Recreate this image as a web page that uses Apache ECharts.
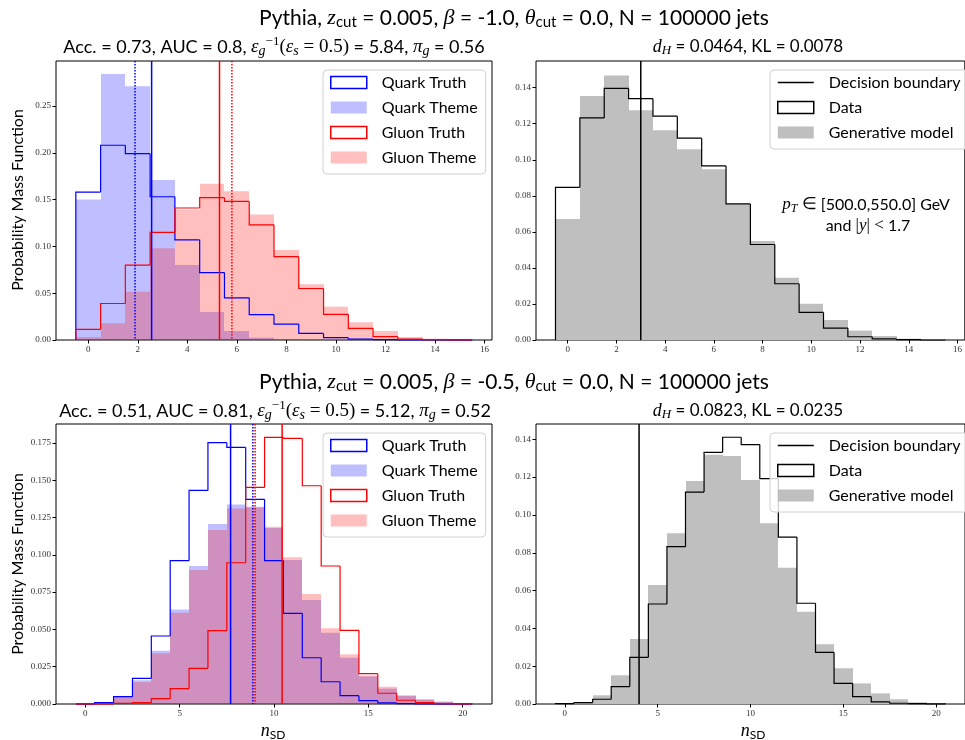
<!DOCTYPE html>
<html>
<head>
<meta charset="utf-8">
<script src="https://cdn.jsdelivr.net/npm/echarts@6/dist/echarts.min.js"></script>
<style>
html, body { margin: 0; padding: 0; background: #fff; }
#chart { width: 965px; height: 740px; }
</style>
</head>
<body>
<div id="chart"></div>
<script>
// bin centres and tick labels
const binsTop = [0, 1, 2, 3, 4, 5, 6, 7, 8, 9, 10, 11, 12, 13, 14, 15];
const binsBottom = [0, 1, 2, 3, 4, 5, 6, 7, 8, 9, 10, 11, 12, 13, 14, 15, 16, 17, 18, 19, 20];
const xTicksTop = [0, 2, 4, 6, 8, 10, 12, 14, 16];
const xTicksBottom = [0, 5, 10, 15, 20];
const yTicksTopLeft = [0, 0.05, 0.10, 0.15, 0.20, 0.25];
const yTicksTopRight = [0, 0.02, 0.04, 0.06, 0.08, 0.10, 0.12, 0.14];
const yTicksBottomLeft = [0, 0.025, 0.05, 0.075, 0.1, 0.125, 0.15, 0.175];
const yTicksBottomRight = [0, 0.02, 0.04, 0.06, 0.08, 0.10, 0.12, 0.14];

// top row, beta = -1.0
const quarkTruthTop = [0.158, 0.208, 0.199, 0.153, 0.107, 0.072, 0.045, 0.027, 0.017, 0.007, 0.0025, 0.001, 0.0005, 0.0002, 0, 0];
const quarkThemeTop = [0.150, 0.284, 0.271, 0.171, 0.080, 0.030, 0.0096, 0.0025, 0.0007, 0.0002, 0, 0, 0, 0, 0, 0];
const gluonTruthTop = [0.0114, 0.039, 0.080, 0.115, 0.141, 0.152, 0.148, 0.123, 0.089, 0.055, 0.0274, 0.0125, 0.0036, 0.001, 0.0004, 0];
const gluonThemeTop = [0.003, 0.0178, 0.0516, 0.098, 0.139, 0.167, 0.159, 0.134, 0.096, 0.0595, 0.0356, 0.0189, 0.0096, 0.0032, 0.0014, 0.0007];
const dataTop = [0.0847, 0.1232, 0.1396, 0.1339, 0.1242, 0.112, 0.0966, 0.0755, 0.053, 0.0312, 0.0153, 0.0066, 0.0018, 0.0006, 0.0002, 0];
const modelTop = [0.0672, 0.1354, 0.1468, 0.1275, 0.1164, 0.1059, 0.0948, 0.0755, 0.0549, 0.0345, 0.0201, 0.0111, 0.0052, 0.0022, 0.0007, 0.0004];
const quarkLineTop = 2.56, quarkDotTop = 1.89, gluonLineTop = 5.30, gluonDotTop = 5.80;
const boundaryTop = 3.0;

// bottom row, beta = -0.5
const quarkTruthBottom = [0, 0.0009, 0.0049, 0.0172, 0.0456, 0.0961, 0.1432, 0.1752, 0.172, 0.1372, 0.0961, 0.0608, 0.031, 0.0149, 0.0056, 0.0022, 0.0007, 0.0002, 0, 0, 0];
const quarkThemeBottom = [0, 0.0005, 0.0054, 0.0159, 0.0357, 0.0634, 0.0925, 0.1206, 0.1338, 0.1323, 0.118, 0.0965, 0.0697, 0.0478, 0.031, 0.0185, 0.0103, 0.0055, 0.003, 0.0015, 0.0006];
const gluonTruthBottom = [0, 0, 0.0004, 0.0009, 0.0036, 0.0103, 0.0239, 0.0492, 0.0947, 0.1452, 0.1787, 0.178, 0.1463, 0.0925, 0.0494, 0.0203, 0.0072, 0.0025, 0.0009, 0.0003, 0.0001];
const gluonThemeBottom = [0, 0.0004, 0.005, 0.0147, 0.034, 0.0612, 0.0898, 0.1166, 0.1311, 0.1318, 0.1189, 0.0983, 0.0737, 0.0507, 0.0333, 0.019, 0.0116, 0.0058, 0.0031, 0.0016, 0.0007];
const dataBottom = [0.0002, 0.0007, 0.0025, 0.0092, 0.0247, 0.0529, 0.0832, 0.1121, 0.1331, 0.1411, 0.1372, 0.1192, 0.0883, 0.0533, 0.0273, 0.0109, 0.0039, 0.0011, 0.0004, 0.0002, 0.0001];
const modelBottom = [0.0001, 0.0004, 0.0046, 0.0152, 0.0344, 0.063, 0.0903, 0.118, 0.1318, 0.1312, 0.1185, 0.0956, 0.0721, 0.0488, 0.0316, 0.0189, 0.0109, 0.0056, 0.0025, 0.0009, 0.0004];
const quarkLineBottom = 7.70, quarkDotBottom = 8.88, gluonLineBottom = 10.43, gluonDotBottom = 9.00;
const boundaryBottom = 4.0;

const SANS = "Lato";
const SERIF = "Liberation Serif";
const BLUE = "#0000ff", RED = "#ff0000";
const BLUE_FILL = "rgba(0,0,255,0.25)", RED_FILL = "rgba(255,0,0,0.25)", GREY_FILL = "#bfbfbf";

const chart = echarts.init(document.getElementById("chart"));

// filled histogram (bars); edges rounded so neighbouring bars don't leave seams
function fillSeries(name, gi, bins, vals, color) {
  return {
    type: "custom", name: name, xAxisIndex: gi, yAxisIndex: gi, z: 1,
    itemStyle: { color: color },
    data: bins.map((b, i) => [b, vals[i]]),
    renderItem: (params, api) => {
      const b = api.value(0), v = api.value(1);
      const p0 = api.coord([b - 0.5, v]);
      const p1 = api.coord([b + 0.5, 0]);
      const x0 = Math.round(p0[0]), x1 = Math.round(p1[0]);
      return {
        type: "rect",
        shape: { x: x0, y: p0[1], width: x1 - x0, height: p1[1] - p0[1] },
        style: { fill: color }
      };
    }
  };
}

// step histogram (outline)
function stepSeries(name, gi, bins, vals, color) {
  return {
    type: "custom", name: name, xAxisIndex: gi, yAxisIndex: gi, z: 3,
    itemStyle: { color: color },
    data: bins.map((b, i) => [b, vals[i], i > 0 ? vals[i - 1] : 0, i === bins.length - 1 ? 1 : 0]),
    renderItem: (params, api) => {
      const b = api.value(0), v = api.value(1), prev = api.value(2), last = api.value(3);
      const pts = [api.coord([b - 0.5, prev]), api.coord([b - 0.5, v]), api.coord([b + 0.5, v])];
      if (last) pts.push(api.coord([b + 0.5, 0]));
      return {
        type: "polyline",
        shape: { points: pts },
        style: { stroke: color, lineWidth: 1.2, fill: null }
      };
    }
  };
}

// vertical line over full plot height
function vlineSeries(name, gi, x, color, dotted) {
  return {
    type: "custom", name: name, xAxisIndex: gi, yAxisIndex: gi, z: 4,
    itemStyle: { color: color },
    data: [[x, 0]],
    renderItem: (params, api) => {
      const cs = params.coordSys;
      const px = api.coord([api.value(0), 0])[0];
      return {
        type: "line",
        shape: { x1: px, y1: cs.y, x2: px, y2: cs.y + cs.height },
        style: { stroke: color, lineWidth: 1.5, lineDash: dotted ? [1.5, 1.5] : null }
      };
    }
  };
}

function xAxis(gi, min, max, ticks) {
  return {
    type: "value", gridIndex: gi, min: min, max: max,
    axisLine: { show: false, onZero: false },
    splitLine: { show: false },
    axisTick: { show: true, customValues: ticks, length: 3.5, lineStyle: { color: "#000" } },
    axisLabel: { customValues: ticks, fontFamily: SERIF, fontSize: 9, color: "#333", margin: 5 }
  };
}

function yAxis(gi, max, ticks, digits) {
  return {
    type: "value", gridIndex: gi, min: 0, max: max,
    axisLine: { show: false, onZero: false },
    splitLine: { show: false },
    axisTick: { show: true, customValues: ticks, length: 3.5, lineStyle: { color: "#000" } },
    axisLabel: {
      customValues: ticks, fontFamily: SERIF, fontSize: 9, color: "#333", margin: 5,
      formatter: v => v.toFixed(digits)
    }
  };
}

function grid(left, top, width, height) {
  return { left: left, top: top, width: width, height: height, show: true, borderColor: "#000", borderWidth: 1, containLabel: false };
}

const boxLegend = (fill, border) => ({ icon: "rect", itemStyle: { color: fill, borderColor: border, borderWidth: border ? 1.5 : 0 } });

function legendBase(left, top) {
  return {
    orient: "vertical", left: left, top: top,
    itemWidth: 36, itemHeight: 12, itemGap: 8,
    padding: [4, 8, 8, 7],
    borderColor: "#d0d0d0", borderWidth: 1, borderRadius: 4,
    backgroundColor: "rgba(255,255,255,0.8)",
    selectedMode: false,
    textStyle: { fontFamily: SANS, fontSize: 16, color: "#000", padding: [0, 0, 0, 10], lineHeight: 17 }
  };
}

function qgLegend(left, top) {
  return Object.assign(legendBase(left, top), {
    data: [
      Object.assign({ name: "Quark Truth" }, boxLegend("#fff", BLUE)),
      Object.assign({ name: "Quark Theme" }, boxLegend(BLUE_FILL, null)),
      Object.assign({ name: "Gluon Truth" }, boxLegend("#fff", RED)),
      Object.assign({ name: "Gluon Theme" }, boxLegend(RED_FILL, null))
    ]
  });
}

function dmLegend(left, top) {
  return Object.assign(legendBase(left, top), {
    data: [
      { name: "Decision boundary", icon: "path://M0,0H40V1.6H0Z", itemStyle: { color: "#000" } },
      Object.assign({ name: "Data" }, boxLegend("#fff", "#000")),
      Object.assign({ name: "Generative model" }, boxLegend(GREY_FILL, null))
    ]
  });
}

function rich(size) {
  const sub = Math.round(size * 0.7);
  return {
    r: { fontFamily: SANS, fontSize: size, fill: "#000" },
    i: { fontFamily: SERIF, fontStyle: "italic", fontSize: size + 1, fill: "#000" },
    m: { fontFamily: SERIF, fontSize: size + 1, fill: "#000" },
    s: { fontFamily: SANS, fontSize: sub, fill: "#000", padding: [Math.round(size * 0.45), 0, 0, 0] },
    si: { fontFamily: SERIF, fontStyle: "italic", fontSize: sub + 1, fill: "#000", padding: [Math.round(size * 0.45), 0, 0, 0] },
    p: { fontFamily: SERIF, fontSize: sub, fill: "#000", padding: [0, 0, Math.round(size * 0.55), 0] }
  };
}

function label(x, y, size, text, rot) {
  return {
    type: "text", x: x, y: y, rotation: rot || 0, z: 10,
    style: { text: text, rich: rich(size), align: "center", verticalAlign: "middle", fill: "#000", fontFamily: SANS, fontSize: size }
  };
}

const supTop = "{r|Pythia, }{i|z}{s|cut}{r| = 0.005, }{i|β}{r| = -1.0, }{i|θ}{s|cut}{r| = 0.0, N = 100000 jets}";
const supBottom = "{r|Pythia, }{i|z}{s|cut}{r| = 0.005, }{i|β}{r| = -0.5, }{i|θ}{s|cut}{r| = 0.0, N = 100000 jets}";
const accTop = "{r|Acc. = 0.73, AUC = 0.8, }{i|ε}{si|g}{p|−1}{m|(}{i|ε}{si|s}{m| = 0.5)}{r| = 5.84, }{i|π}{si|g}{r| = 0.56}";
const accBottom = "{r|Acc. = 0.51, AUC = 0.81, }{i|ε}{si|g}{p|−1}{m|(}{i|ε}{si|s}{m| = 0.5)}{r| = 5.12, }{i|π}{si|g}{r| = 0.52}";
const distTop = "{i|d}{si|H}{r| = 0.0464, KL = 0.0078}";
const distBottom = "{i|d}{si|H}{r| = 0.0823, KL = 0.0235}";

const option = {
  animation: false,
  backgroundColor: "#fff",
  grid: [
    grid(56, 61, 436, 279),
    grid(536, 61, 434, 279),
    grid(56, 424, 436, 280),
    grid(536, 424, 434, 280)
  ],
  xAxis: [
    xAxis(0, -1.3, 16.3, xTicksTop),
    xAxis(1, -1.3, 16.3, xTicksTop),
    xAxis(2, -1.55, 21.55, xTicksBottom),
    xAxis(3, -1.55, 21.55, xTicksBottom)
  ],
  yAxis: [
    yAxis(0, 0.298, yTicksTopLeft, 2),
    yAxis(1, 0.1548, yTicksTopRight, 2),
    yAxis(2, 0.1877, yTicksBottomLeft, 3),
    yAxis(3, 0.1481, yTicksBottomRight, 2)
  ],
  legend: [qgLegend(323, 70), dmLegend(770, 70), qgLegend(323, 433), dmLegend(770, 433)],
  series: [
    // top left
    fillSeries("Quark Theme", 0, binsTop, quarkThemeTop, BLUE_FILL),
    fillSeries("Gluon Theme", 0, binsTop, gluonThemeTop, RED_FILL),
    stepSeries("Quark Truth", 0, binsTop, quarkTruthTop, BLUE),
    stepSeries("Gluon Truth", 0, binsTop, gluonTruthTop, RED),
    vlineSeries("quark-solid-top", 0, quarkLineTop, BLUE, false),
    vlineSeries("quark-dot-top", 0, quarkDotTop, BLUE, true),
    vlineSeries("gluon-solid-top", 0, gluonLineTop, RED, false),
    vlineSeries("gluon-dot-top", 0, gluonDotTop, RED, true),
    // top right
    fillSeries("Generative model", 1, binsTop, modelTop, GREY_FILL),
    stepSeries("Data", 1, binsTop, dataTop, "#000"),
    vlineSeries("Decision boundary", 1, boundaryTop, "#000", false),
    // bottom left
    fillSeries("Quark Theme", 2, binsBottom, quarkThemeBottom, BLUE_FILL),
    fillSeries("Gluon Theme", 2, binsBottom, gluonThemeBottom, RED_FILL),
    stepSeries("Quark Truth", 2, binsBottom, quarkTruthBottom, BLUE),
    stepSeries("Gluon Truth", 2, binsBottom, gluonTruthBottom, RED),
    vlineSeries("quark-solid-bottom", 2, quarkLineBottom, BLUE, false),
    vlineSeries("quark-dot-bottom", 2, quarkDotBottom, BLUE, true),
    vlineSeries("gluon-solid-bottom", 2, gluonLineBottom, RED, false),
    vlineSeries("gluon-dot-bottom", 2, gluonDotBottom, RED, true),
    // bottom right
    fillSeries("Generative model", 3, binsBottom, modelBottom, GREY_FILL),
    stepSeries("Data", 3, binsBottom, dataBottom, "#000"),
    vlineSeries("Decision boundary", 3, boundaryBottom, "#000", false)
  ],
  graphic: [
    label(514, 18, 21, supTop),
    label(274, 47, 18, accTop),
    label(748, 47, 17, distTop),
    label(514, 382, 21, supBottom),
    label(275, 411, 18, accBottom),
    label(748, 411, 17, distBottom),
    label(866, 205, 16, "{i|p}{si|T}{m| ∈ }{r|[500.0,550.0] GeV}"),
    label(868, 226, 16, "{r|and }{m||}{i|y}{m|| < }{r|1.7}"),
    label(273, 731, 17, "{i|n}{s|SD}"),
    label(753, 731, 17, "{i|n}{s|SD}"),
    label(18, 200, 16, "{r|Probability Mass Function}", Math.PI / 2),
    label(18, 564, 16, "{r|Probability Mass Function}", Math.PI / 2)
  ]
};

chart.setOption(option);
</script>
</body>
</html>
